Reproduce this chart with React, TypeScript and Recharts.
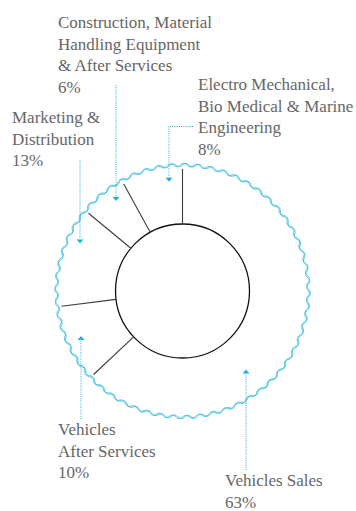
import { PieChart, Pie } from 'recharts';

const categories = [
  'Electro Mechanical,\nBio Medical & Marine\nEngineering',
  'Construction, Material\nHandling Equipment\n& After Services',
  'Marketing &\nDistribution',
  'Vehicles\nAfter Services',
  'Vehicles Sales',
];
const shares = [8, 6, 13, 10, 63];

const data = categories.map((name, i) => ({ name, value: shares[i] }));
const ringData = [{ name: 'ring', value: 1 }];

const CYAN = '#1fb3d8';
const TEXT = '#666666';
const RAD = Math.PI / 180;
const LINE_H = 21.5;
const FONT = "'Liberation Serif', 'Times New Roman', serif";

// label block placement + leader line for each slice
const labelLayout = [
  { tx: 198, ty: 90, lx: 169, from: 126.5, elbow: 193, tipR: 110, dir: 'down' },
  { tx: 58, ty: 28, lx: 116, from: 85, tipR: 112, dir: 'down' },
  { tx: 12, ty: 123, lx: 80, from: 160, tipR: 113, dir: 'down' },
  { tx: 58, ty: 435, lx: 81, from: 419, tipR: 111, dir: 'up' },
  { tx: 225, ty: 486, lx: 246, from: 470, tipR: 101, dir: 'up' },
];

const SegmentEdge = (props: any) => {
  const { cx, cy, innerRadius, outerRadius, startAngle } = props;
  const c = Math.cos(-startAngle * RAD);
  const s = Math.sin(-startAngle * RAD);
  return (
    <line
      x1={cx + innerRadius * c}
      y1={cy + innerRadius * s}
      x2={cx + outerRadius * c}
      y2={cy + outerRadius * s}
      stroke="#3c3c3c"
      strokeWidth={1.1}
    />
  );
};

// twisted-cord border: two sine waves slightly out of phase
const Ring = (props: any) => {
  const { cx, cy, innerRadius, outerRadius } = props;
  const waves = 60;
  const amp = 1.6;
  const wave = (phase: number) => {
    let d = '';
    const steps = 1800;
    for (let i = 0; i <= steps; i++) {
      const t = (i / steps) * Math.PI * 2;
      const r = outerRadius + amp * Math.sin(waves * t + phase);
      d += (i === 0 ? 'M' : 'L') + (cx + r * Math.cos(t)).toFixed(2) + ',' + (cy + r * Math.sin(t)).toFixed(2);
    }
    return d + 'Z';
  };
  return (
    <g>
      <path d={wave(0)} fill="none" stroke={CYAN} strokeWidth={0.85} />
      <path d={wave(1.0)} fill="none" stroke={CYAN} strokeWidth={0.85} />
      <circle cx={cx} cy={cy} r={innerRadius} fill="#fff" stroke="#111" strokeWidth={1.3} />
    </g>
  );
};

const renderLabel = (props: any) => {
  const { cx, cy, index } = props;
  const lay = labelLayout[index];
  const lines = categories[index].split('\n').concat(`${shares[index]}%`);
  const dx = lay.lx - cx;
  const h = Math.sqrt(Math.max(lay.tipR * lay.tipR - dx * dx, 0));
  const tipY = lay.dir === 'down' ? cy - h : cy + h;
  const base = lay.dir === 'down' ? tipY - 4 : tipY + 4;
  return (
    <g key={`lbl-${index}`}>
      {lay.elbow && (
        <line x1={lay.elbow} y1={lay.from} x2={lay.lx} y2={lay.from} stroke={CYAN} strokeWidth={1} strokeDasharray="1 1.2" />
      )}
      <line x1={lay.lx} y1={lay.from} x2={lay.lx} y2={base} stroke={CYAN} strokeWidth={1} strokeDasharray="1 1.2" />
      <polygon points={`${lay.lx - 3.5},${base} ${lay.lx + 3.5},${base} ${lay.lx},${tipY}`} fill={CYAN} />
      <text x={lay.tx} y={lay.ty} fill={TEXT} style={{ fontFamily: FONT, fontSize: 17 }}>
        {lines.map((ln, i) => (
          <tspan key={i} x={lay.tx} y={lay.ty + i * LINE_H}>{ln}</tspan>
        ))}
      </text>
    </g>
  );
};

export default function App() {
  return (
    <div style={{ position: 'absolute', left: 0, top: 0, background: '#fff' }}>
      <PieChart width={356} height={511} margin={{ top: 0, right: 0, bottom: 0, left: 0 }}>
        <Pie
          data={ringData}
          dataKey="value"
          cx={182.5}
          cy={291}
          innerRadius={67}
          outerRadius={126}
          startAngle={90}
          endAngle={450}
          shape={Ring}
          isAnimationActive={false}
        />
        <Pie
          data={data}
          dataKey="value"
          nameKey="name"
          cx={182.5}
          cy={291}
          innerRadius={67}
          outerRadius={122}
          startAngle={90}
          endAngle={450}
          paddingAngle={0}
          shape={SegmentEdge}
          label={renderLabel}
          labelLine={false}
          isAnimationActive={false}
        />
      </PieChart>
    </div>
  );
}
